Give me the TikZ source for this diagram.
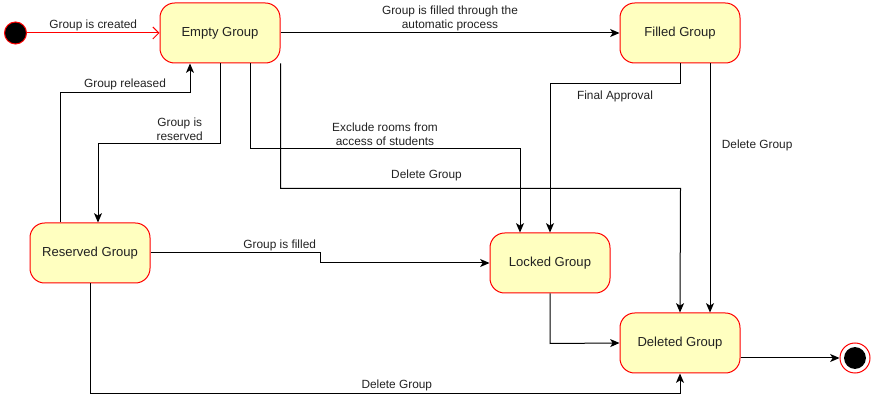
\documentclass[tikz,border=0pt]{standalone}
\usepackage{fontspec}
\setmainfont{Liberation Sans}
\usetikzlibrary{arrows.meta,calc}
\definecolor{statefill}{HTML}{FFFFC0}
\definecolor{txt}{HTML}{222222}
\begin{document}
\begin{tikzpicture}[x=0.75pt,y=-0.75pt,
  state/.style={draw=red,fill=statefill,rounded corners=11pt,minimum width=90pt,minimum height=45pt,line width=0.75pt,font=\fontsize{9.8}{11}\selectfont,text=txt,text height=5.6pt,text depth=0pt},
  lbl/.style={font=\fontsize{8.9}{10.5}\selectfont,align=center,text=txt,inner sep=1.5pt},
  conn/.style={draw,line width=0.75pt,-{Stealth[length=7pt,width=6pt,inset=1.8pt]}},
  startline/.style={draw=red,line width=0.75pt,-{Straight Barb[length=4.5pt,width=9pt]}},
  startdot/.style={circle,draw=red,fill=black,minimum size=16.5pt,inner sep=0pt,line width=0.75pt},
  enddot/.style={circle,draw=red,fill=white,minimum size=22.5pt,inner sep=0pt,line width=0.75pt}
]
\useasboundingbox (0,0) rectangle (871,402);

\node[startdot] (s) at (15.5,33) {};
\node[state] (e) at (220,33) {Empty Group};
\node[state] (f) at (680,33) {Filled Group};
\node[state] (r) at (90,253) {Reserved Group};
\node[state] (l) at (550,263) {Locked Group};
\node[state] (d) at (680,343) {Deleted Group};
\node[enddot] (t) at (855,358) {};
\fill[black] (t.center) circle (8.2pt);

\draw[startline] (s) -- node[lbl,above]{Group is created} (e);
\draw[conn] (e) -- node[lbl,above]{Group is filled through the\\automatic process} (f);

\draw[conn] ($(r.north)+(-30,0)$) -- ++(0,-130) -- node[lbl,above]{Group released} ++(130,0) -- ($(e.south)+(-30,0)$);
\draw[conn] (e.south) -- ++(0,80) -- node[lbl,above,pos=0.33]{Group is\\reserved} ++(-122,0) -- ($(r.north)+(8,0)$);
\draw[conn] ($(e.south)+(30,0)$) -- ++(0,85) -- node[lbl,above]{Exclude rooms from\\access of students} ++(270,0) -- ($(l.north)+(-30,0)$);
\draw[conn] (e.south east) -- ++(0,125) -- node[lbl,above,pos=0.365,yshift=4pt]{Delete Group} ++(400,0) -- (d.north);
\draw[conn] (f.south) -- ++(0,20) -- node[lbl,below,yshift=-4pt]{Final Approval} ++(-130,0) -- (l.north);
\draw[conn] ($(f.south)+(30,0)$) -- node[lbl,right,pos=0.33,xshift=7pt]{Delete Group} ($(d.north)+(30,0)$);
\draw[conn] (r.east) -- node[lbl,above,pos=0.76]{Group is filled} ++(170,0) -- ++(0,10) -- (l.west);
\draw[conn] (l.south) -- ++(0,50) -- (d.west);
\draw[conn] (r.south) -- ++(0,110) -- node[lbl,above,pos=0.52]{Delete Group} ++(590,0) -- (d.south);
\draw[conn] ($(d.east)+(0,15)$) -- (t.west);
\end{tikzpicture}
\end{document}
